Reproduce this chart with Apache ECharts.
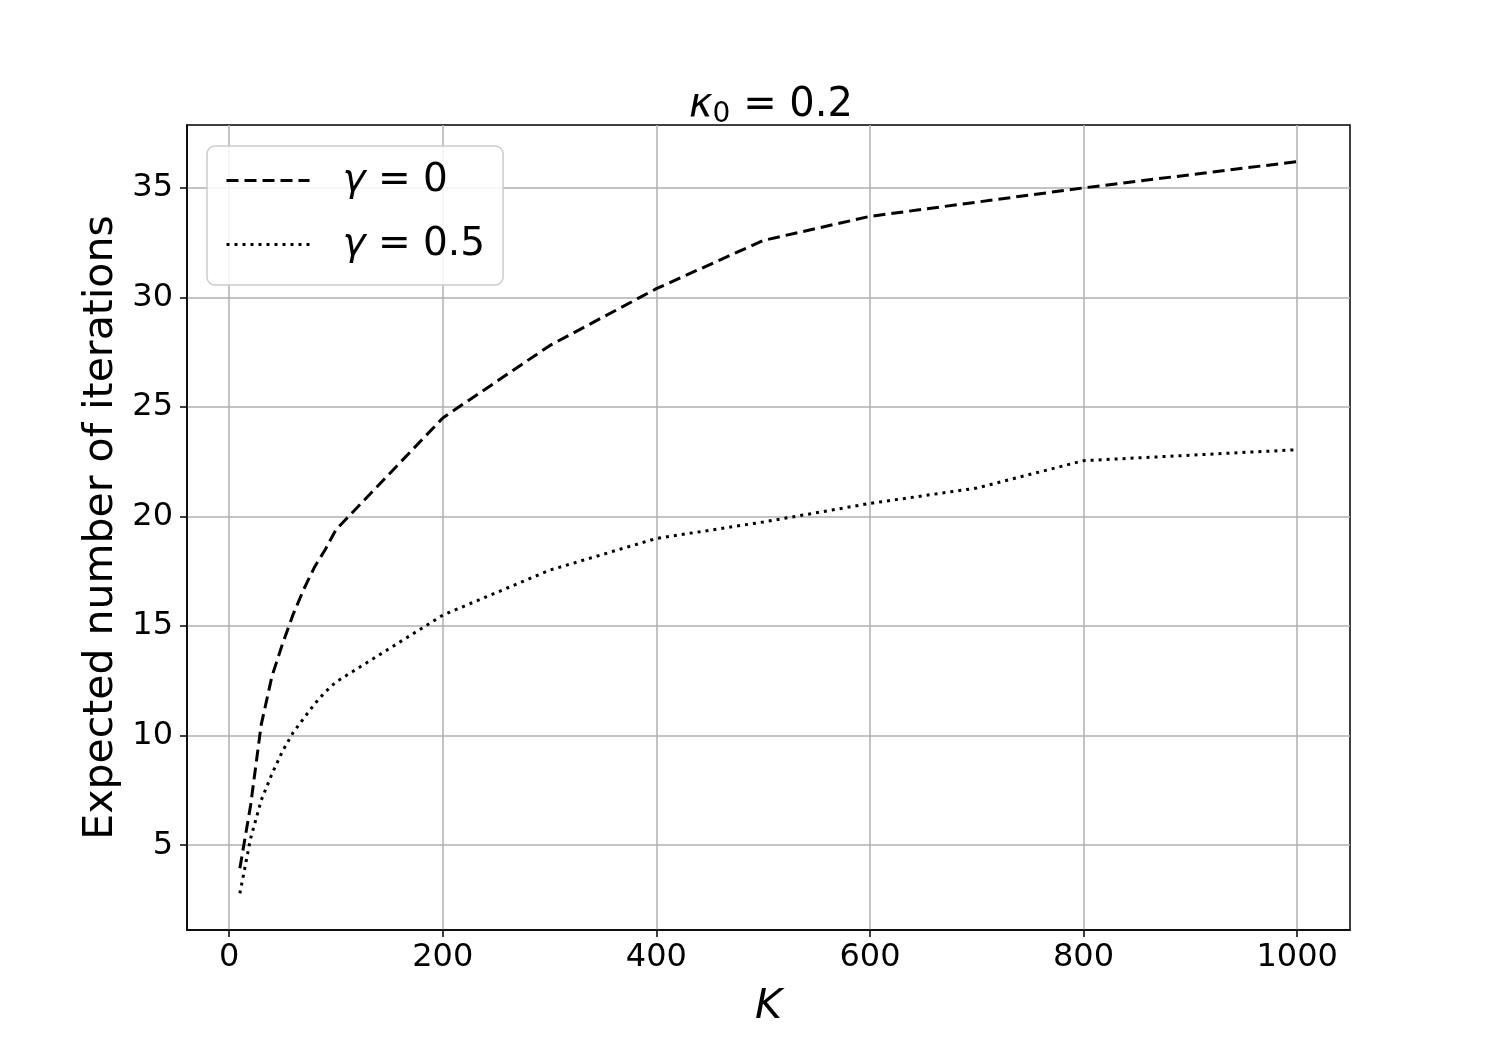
<!DOCTYPE html>
<html>
<head>
<meta charset="utf-8">
<script src="https://cdn.jsdelivr.net/npm/echarts@6/dist/echarts.min.js"></script>
<style>
  html, body { margin: 0; padding: 0; background: #fff; }
  #chart { width: 1500px; height: 1048px; }
</style>
</head>
<body>
<div id="chart"></div>
<script>
var kValues = [10, 20, 30, 40, 50, 60, 70, 80, 90, 100, 200, 300, 400, 500, 600, 700, 800, 900, 1000];
var gamma0 = [3.95, 6.8, 10.5, 12.7, 14.2, 15.55, 16.7, 17.7, 18.5, 19.4, 24.5, 27.8, 30.4, 32.6, 33.7, 34.35, 35.0, 35.6, 36.2];
var gamma05 = [2.8, 5.3, 7.05, 8.25, 9.3, 10.15, 10.8, 11.45, 12.0, 12.45, 15.5, 17.55, 19.0, 19.75, 20.6, 21.3, 22.55, 22.8, 23.05];
var xTicks = [0, 200, 400, 600, 800, 1000];
var yTicks = [5, 10, 15, 20, 25, 30, 35];
var seriesNames = ['γ = 0', 'γ = 0.5'];

var font = 'DejaVu Sans';

function pairs(xs, ys) {
	var out = [];
	for (var i = 0; i < xs.length; i++) {
		out.push([xs[i], ys[i]]);
	}
	return out;
}

var chart = echarts.init(document.getElementById('chart'), null, { renderer: 'canvas' });

var option = {
	backgroundColor: '#fff',
	animation: false,
	title: {
		text: '{k|κ}{s|0}{n| = 0.2}',
		left: 766,
		top: 78,
		textAlign: 'center',
		textStyle: {
			fontWeight: 'normal',
			rich: {
				k: { fontFamily: font, fontSize: 40, fontStyle: 'italic', fontWeight: 'normal', color: '#000' },
				s: { fontFamily: font, fontSize: 28, fontWeight: 'normal', color: '#000', verticalAlign: 'bottom', padding: [18, 0, 0, 0] },
				n: { fontFamily: font, fontSize: 40, fontWeight: 'normal', color: '#000' }
			}
		}
	},
	grid: {
		left: 187,
		right: 150,
		top: 125,
		bottom: 118,
		show: true,
		borderColor: '#000',
		borderWidth: 1.5,
		backgroundColor: '#fff'
	},
	legend: {
		orient: 'vertical',
		left: 207,
		top: 146,
		padding: [15, 18, 21, 18],
		itemWidth: 83,
		itemHeight: 20,
		itemGap: 25,
		backgroundColor: 'rgba(255,255,255,0.85)',
		borderColor: '#cccccc',
		borderWidth: 1.5,
		borderRadius: 8,
		itemStyle: { opacity: 0 },
		lineStyle: { width: 3 },
		data: seriesNames,
		formatter: function(name) {
			return '{g|γ}{t|' + name.slice(1) + '}';
		},
		textStyle: {
			padding: [0, 0, 0, 28],
			rich: {
				g: { fontFamily: font, fontSize: 39, fontStyle: 'italic', color: '#000', lineHeight: 44 },
				t: { fontFamily: font, fontSize: 39, color: '#000', lineHeight: 44 }
			}
		}
	},
	xAxis: {
		type: 'value',
		min: -39.5,
		max: 1049.5,
		name: 'K',
		nameLocation: 'middle',
		nameGap: 57,
		nameTextStyle: { fontFamily: font, fontSize: 41, fontStyle: 'italic', color: '#000' },
		axisLine: { show: true, onZero: false, lineStyle: { color: '#000', width: 1.5 } },
		axisTick: { show: true, length: 7, customValues: xTicks, lineStyle: { color: '#000', width: 1.5 } },
		axisLabel: {
			customValues: xTicks,
			margin: 12,
			fontFamily: font,
			fontSize: 32,
			color: '#000',
			formatter: function(v) { return String(v); }
		},
		splitLine: { show: true, lineStyle: { color: '#b0b0b0', width: 1.5 } }
	},
	yAxis: {
		type: 'value',
		min: 1.13,
		max: 37.87,
		name: 'Expected number of iterations',
		nameLocation: 'middle',
		nameGap: 64,
		nameTextStyle: { fontFamily: font, fontSize: 41, color: '#000' },
		axisLine: { show: true, onZero: false, lineStyle: { color: '#000', width: 1.5 } },
		axisTick: { show: true, length: 7, customValues: yTicks, lineStyle: { color: '#000', width: 1.5 } },
		axisLabel: { customValues: yTicks, margin: 14, fontFamily: font, fontSize: 32, color: '#000' },
		splitLine: { show: true, lineStyle: { color: '#b0b0b0', width: 1.5 } }
	},
	series: [{
		name: seriesNames[0],
		type: 'line',
		data: pairs(kValues, gamma0),
		symbol: 'none',
		lineStyle: { color: '#000', width: 3, type: [12, 6] },
		itemStyle: { color: '#000' }
	}, {
		name: seriesNames[1],
		type: 'line',
		data: pairs(kValues, gamma05),
		symbol: 'none',
		lineStyle: { color: '#000', width: 3, type: [3, 5] },
		itemStyle: { color: '#000' }
	}]
};

chart.setOption(option);
</script>
</body>
</html>
